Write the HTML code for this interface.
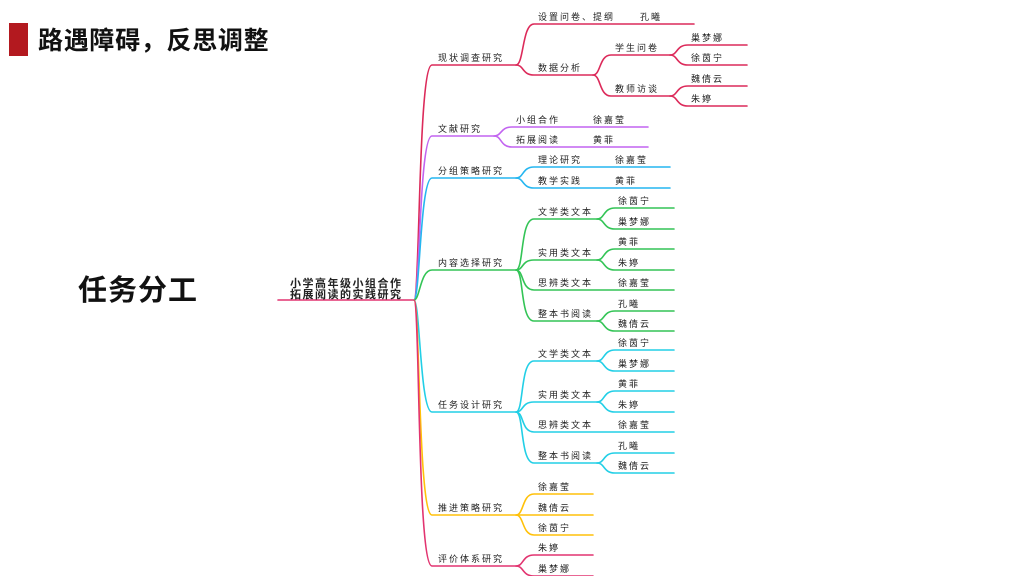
<!DOCTYPE html>
<html><head><meta charset="utf-8"><style>
html,body{margin:0;padding:0;background:#fff;}
svg{display:block;}
text{font-family:"Liberation Sans","Noto Sans CJK SC",sans-serif;font-size:9px;fill:#222;letter-spacing:2px;}
.b{font-weight:bold;}
path{fill:none;stroke-width:1.6;stroke-linecap:round;}
.r{stroke:#dc2a5a}.p{stroke:#c264f0}.c{stroke:#25b6f0}.g{stroke:#33c456}.t{stroke:#22cfe6}.y{stroke:#ffc10a}.k{stroke:#e23470}
</style></head><body>
<svg width="1024" height="576" viewBox="0 0 1024 576" xmlns="http://www.w3.org/2000/svg">
<rect x="9" y="23" width="19" height="33" fill="#b3191f"/>
<text x="38" y="49" class="b" style="font-size:25px;letter-spacing:0.7px;fill:#111">路遇障碍，反思调整</text>
<text x="78" y="300" class="b" style="font-size:29px;letter-spacing:1px;fill:#111">任务分工</text>

<!-- root -->
<path class="k" d="M278 300 L414 300"/>
<text x="290" y="287" class="b" style="font-size:11px;letter-spacing:1.5px">小学高年级小组合作</text>
<text x="290" y="298" class="b" style="font-size:11px;letter-spacing:1.5px">拓展阅读的实践研究</text>

<!-- level1 -->
<path class="r" d="M414 300 C420 300 418 65 432 65 L516 65"/>
<path class="p" d="M414 300 C420 300 419 136 432 136 L494 136"/>
<path class="c" d="M414 300 C420 300 420 178 432 178 L516 178"/>
<path class="g" d="M414 300 C420 300 420 270 432 270 L516 270"/>
<path class="t" d="M414 300 C420 300 420 412 432 412 L516 412"/>
<path class="y" d="M414 300 C420 300 418 515 432 515 L516 515"/>
<path class="k" d="M414 300 C420 300 417 566 432 566 L516 566"/>
<text x="438" y="61">现状调查研究</text>
<text x="438" y="132">文献研究</text>
<text x="438" y="174">分组策略研究</text>
<text x="438" y="266">内容选择研究</text>
<text x="438" y="408">任务设计研究</text>
<text x="438" y="511">推进策略研究</text>
<text x="438" y="562">评价体系研究</text>

<!-- 现状 -->
<path class="r" d="M516 65 C524 65 522 24 534 24 L694 24"/>
<path class="r" d="M516 65 C524 65 522 75 534 75 L593 75"/>
<text x="538" y="20">设置问卷、提纲</text><text x="640" y="20">孔曦</text>
<text x="538" y="71">数据分析</text>
<path class="r" d="M593 75 C601 75 599 55 611 55 L670 55"/>
<path class="r" d="M593 75 C601 75 599 96 611 96 L670 96"/>
<text x="615" y="51">学生问卷</text><text x="615" y="92">教师访谈</text>
<path class="r" d="M670 55 C678 55 676 45 688 45 L747 45"/>
<path class="r" d="M670 55 C678 55 676 65 688 65 L747 65"/>
<path class="r" d="M670 96 C678 96 676 86 688 86 L747 86"/>
<path class="r" d="M670 96 C678 96 676 106 688 106 L747 106"/>
<text x="691" y="41">巢梦娜</text><text x="691" y="61">徐茵宁</text>
<text x="691" y="82">魏倩云</text><text x="691" y="102">朱婷</text>

<!-- 文献 -->
<path class="p" d="M494 136 C502 136 500 127 512 127 L648 127"/>
<path class="p" d="M494 136 C502 136 500 147 512 147 L648 147"/>
<text x="516" y="123">小组合作</text><text x="593" y="123">徐嘉莹</text>
<text x="516" y="143">拓展阅读</text><text x="593" y="143">黄菲</text>

<!-- 分组 -->
<path class="c" d="M516 178 C524 178 522 167 534 167 L670 167"/>
<path class="c" d="M516 178 C524 178 522 188 534 188 L670 188"/>
<text x="538" y="163">理论研究</text><text x="615" y="163">徐嘉莹</text>
<text x="538" y="184">教学实践</text><text x="615" y="184">黄菲</text>

<!-- 内容 -->
<path class="g" d="M516 270 C524 270 520 219 534 219 L597 219"/>
<path class="g" d="M516 270 C524 270 521 260 534 260 L597 260"/>
<path class="g" d="M516 270 C524 270 521 290 534 290 L674 290"/>
<path class="g" d="M516 270 C524 270 520 321 534 321 L597 321"/>
<text x="538" y="215">文学类文本</text><text x="538" y="256">实用类文本</text>
<text x="538" y="286">思辨类文本</text><text x="538" y="317">整本书阅读</text>
<path class="g" d="M597 219 C605 219 603 208 615 208 L674 208"/>
<path class="g" d="M597 219 C605 219 603 229 615 229 L674 229"/>
<path class="g" d="M597 260 C605 260 603 249 615 249 L674 249"/>
<path class="g" d="M597 260 C605 260 603 270 615 270 L674 270"/>
<path class="g" d="M597 321 C605 321 603 311 615 311 L674 311"/>
<path class="g" d="M597 321 C605 321 603 331 615 331 L674 331"/>
<text x="618" y="204">徐茵宁</text><text x="618" y="225">巢梦娜</text>
<text x="618" y="245">黄菲</text><text x="618" y="266">朱婷</text>
<text x="618" y="286">徐嘉莹</text>
<text x="618" y="307">孔曦</text><text x="618" y="327">魏倩云</text>

<!-- 任务 -->
<path class="t" d="M516 412 C524 412 520 361 534 361 L597 361"/>
<path class="t" d="M516 412 C524 412 521 402 534 402 L597 402"/>
<path class="t" d="M516 412 C524 412 521 432 534 432 L674 432"/>
<path class="t" d="M516 412 C524 412 520 463 534 463 L597 463"/>
<text x="538" y="357">文学类文本</text><text x="538" y="398">实用类文本</text>
<text x="538" y="428">思辨类文本</text><text x="538" y="459">整本书阅读</text>
<path class="t" d="M597 361 C605 361 603 350 615 350 L674 350"/>
<path class="t" d="M597 361 C605 361 603 371 615 371 L674 371"/>
<path class="t" d="M597 402 C605 402 603 391 615 391 L674 391"/>
<path class="t" d="M597 402 C605 402 603 412 615 412 L674 412"/>
<path class="t" d="M597 463 C605 463 603 453 615 453 L674 453"/>
<path class="t" d="M597 463 C605 463 603 473 615 473 L674 473"/>
<text x="618" y="346">徐茵宁</text><text x="618" y="367">巢梦娜</text>
<text x="618" y="387">黄菲</text><text x="618" y="408">朱婷</text>
<text x="618" y="428">徐嘉莹</text>
<text x="618" y="449">孔曦</text><text x="618" y="469">魏倩云</text>

<!-- 推进 -->
<path class="y" d="M516 515 C524 515 522 494 534 494 L593 494"/>
<path class="y" d="M516 515 L593 515"/>
<path class="y" d="M516 515 C524 515 522 535 534 535 L593 535"/>
<text x="538" y="490">徐嘉莹</text><text x="538" y="511">魏倩云</text><text x="538" y="531">徐茵宁</text>

<!-- 评价 -->
<path class="k" d="M516 566 C524 566 522 555 534 555 L593 555"/>
<path class="k" d="M516 566 C524 566 522 576 534 576 L593 576"/>
<text x="538" y="551">朱婷</text><text x="538" y="572">巢梦娜</text>
</svg>
</body></html>
